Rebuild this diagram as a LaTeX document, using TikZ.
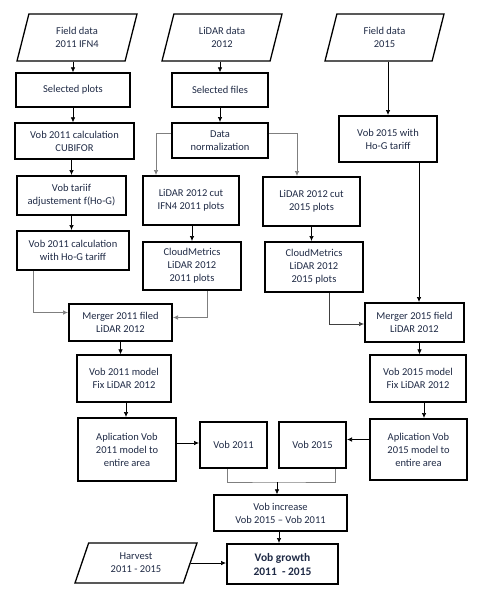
\documentclass[tikz,border=0pt]{standalone}
\usepackage{fontspec}
\setmainfont{Carlito}
\usetikzlibrary{shapes.geometric,arrows.meta}
\definecolor{inkblue}{HTML}{1F2A45}
\definecolor{linegray}{HTML}{7F7F7F}
\begin{document}
\begin{tikzpicture}[x=1pt,y=-1pt,
	box/.style={draw,line width=1.3pt,align=center,text=inkblue,inner sep=1pt,
		font=\fontsize{10.5}{13}\selectfont},
	boldbox/.style={box,line width=2pt},
	datain/.style={box,trapezium,trapezium stretches body,trapezium left angle=62,
		trapezium right angle=118},
	arr/.style={-{Latex[length=5pt,width=4.5pt]},line width=0.7pt},
	garr/.style={arr,draw=linegray}]
	\useasboundingbox (0,0) rectangle (484,594); % keeps the margins
	% inputs
	\node[datain,minimum width=120pt,minimum height=47pt] (FieldA) at (77,37.5) {Field data\\2011 IFN4};
	\node[datain,minimum width=120pt,minimum height=47pt] (Lidar) at (222,37.5) {LiDAR data\\2012};
	\node[datain,minimum width=119pt,minimum height=47pt] (FieldB) at (384.5,37.5) {Field data\\2015};
	\node[datain,trapezium left angle=58,trapezium right angle=122,
		minimum width=122pt,minimum height=40pt] (Harvest) at (136,563) {Harvest\\2011 - 2015};
	% left column
	\node[box,minimum width=114pt,minimum height=34pt] (SelPlots) at (73,90) {Selected plots};
	\node[box,minimum width=119pt,minimum height=36pt] (Cubifor) at (74.5,141) {Vob 2011 calculation\\CUBIFOR};
	\node[boldbox,minimum width=109pt,minimum height=39pt] (Tariff) at (71.5,195.5) {Vob tariif\\adjustement f(Ho-G)};
	\node[boldbox,minimum width=112pt,minimum height=39pt] (HoGA) at (73,250.5) {Vob 2011 calculation\\with Ho-G tariff};
	% lidar column
	\node[box,minimum width=96pt,minimum height=34pt] (SelFiles) at (220,90) {Selected files};
	\node[boldbox,minimum width=96pt,minimum height=35pt] (Norm) at (220,140.5) {Data\\normalization};
	\node[boldbox,minimum width=96pt,minimum height=49pt] (CutA) at (191,200.5) {LiDAR 2012 cut\\IFN4 2011 plots};
	\node[boldbox,minimum width=97pt,minimum height=49pt] (CutB) at (311.5,201.5) {LiDAR 2012 cut\\2015 plots};
	\node[boldbox,minimum width=98pt,minimum height=48pt] (CloudA) at (192,266) {CloudMetrics\\LiDAR 2012\\2011 plots};
	\node[boldbox,minimum width=98pt,minimum height=50pt] (CloudB) at (314,267) {CloudMetrics\\LiDAR 2012\\2015 plots};
	% right column
	\node[boldbox,minimum width=98pt,minimum height=46pt] (HoGB) at (388,139) {Vob 2015 with\\Ho-G tariff};
	% models
	\node[boldbox,minimum width=103pt,minimum height=37pt] (MergeA) at (120.5,322.5) {Merger 2011 filed\\LiDAR 2012};
	\node[boldbox,minimum width=99pt,minimum height=39pt] (MergeB) at (414.5,322.5) {Merger 2015 field\\LiDAR 2012};
	\node[box,minimum width=94pt,minimum height=47pt] (ModelA) at (124,378.5) {Vob 2011 model\\Fix LiDAR 2012};
	\node[box,minimum width=96pt,minimum height=47pt] (ModelB) at (418,378.5) {Vob 2015 model\\Fix LiDAR 2012};
	\node[boldbox,minimum width=98pt,minimum height=63pt] (AppA) at (127,449.5) {Aplication Vob\\2011 model to\\entire area};
	\node[boldbox,minimum width=97pt,minimum height=61pt] (AppB) at (418.5,449.5) {Aplication Vob\\2015 model to\\entire area};
	\node[boldbox,minimum width=67pt,minimum height=46pt] (VobA) at (233.5,445) {Vob 2011};
	\node[boldbox,minimum width=67pt,minimum height=46pt] (VobB) at (312.5,445) {Vob 2015};
	\node[box,minimum width=133pt,minimum height=36pt] (Incr) at (280.5,513) {Vob increase\\Vob 2015 -- Vob 2011};
	\node[boldbox,minimum width=111pt,minimum height=40pt,
		font=\fontsize{11.5}{14}\selectfont\bfseries] (Growth) at (282.5,564) {Vob growth\\2011~~- 2015};
	\coordinate (Join) at (277,482);
	\coordinate (HoGBout) at ([xshift=4.5pt]MergeB.north |- HoGB.south);
	% connectors
	\draw[arr] (FieldA.south -| SelPlots.north) -- (SelPlots.north);
	\draw[arr] (SelPlots.south) -- (SelPlots.south |- Cubifor.north);
	\draw[arr] (Cubifor.south -| Tariff.north) -- (Tariff.north);
	\draw[arr] (Tariff.south) -- (Tariff.south |- HoGA.north);
	\draw[arr] (Lidar.south -| SelFiles.north) -- (SelFiles.north);
	\draw[arr] (SelFiles.south) -- (Norm.north);
	\draw[garr] ([yshift=7pt]Norm.west) -| ([xshift=-35pt]CutA.north);
	\draw[garr] ([yshift=7pt]Norm.east) -| ([xshift=-14.5pt]CutB.north);
	\draw[arr] (CutA.south -| CloudA.north) -- (CloudA.north);
	\draw[arr] (CutB.south) -- (CutB.south |- CloudB.north);
	\draw[arr] (FieldB.south -| HoGB.north) -- (HoGB.north);
	\draw[arr] (HoGBout) -- (HoGBout |- MergeB.north);
	\draw[garr] ([xshift=-40pt]HoGA.south) |- ([yshift=10pt]MergeA.west);
	\draw[garr] ([xshift=15pt]CloudA.south) |- ([yshift=5pt]MergeA.east);
	\draw[arr,draw=black!75] ([xshift=15pt]CloudB.south) |- ([yshift=-1.5pt]MergeB.west);
	\draw[arr] (MergeA.south) -- (MergeA.south |- ModelA.north);
	\draw[arr] ([xshift=2pt]ModelA.south) -- ([xshift=2pt]ModelA.south |- AppA.north);
	\draw[arr] ([xshift=5pt]MergeB.south) -- ([xshift=5pt]MergeB.south |- ModelB.north);
	\draw[arr] ([xshift=6pt]ModelB.south) -- ([xshift=6pt]ModelB.south |- AppB.north);
	\draw[arr] ([yshift=6.5pt]AppA.east) -- ([yshift=6.5pt]AppA.east -| VobA.west);
	\draw[arr] ([yshift=10pt]AppB.west) -- ([yshift=10pt]AppB.west -| VobB.east);
	\draw[draw=linegray,line width=0.7pt] ([xshift=-6.5pt]VobA.south) |- (Join) -| ([xshift=22.5pt]VobB.south);
	\draw[arr] (Join) -- (Join |- Incr.north);
	\draw[arr] ([xshift=-1.5pt]Incr.south) -- ([xshift=-1.5pt]Incr.south |- Growth.north);
	\draw[arr] (Harvest.east) -- (Harvest.east -| Growth.west);
\end{tikzpicture}
\end{document}
